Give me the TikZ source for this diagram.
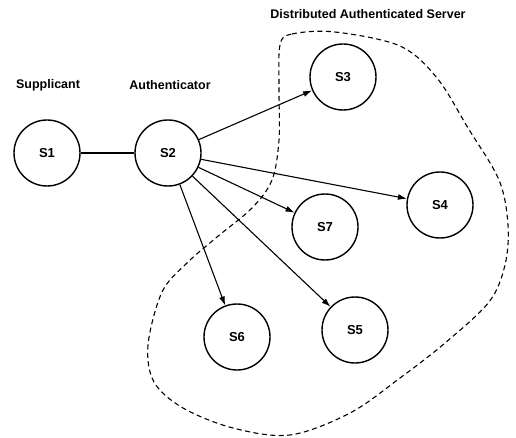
\documentclass[tikz,border=0pt]{standalone}
\usepackage{fontspec}
\setmainfont{Liberation Sans}
\usepackage{tikz}
\usetikzlibrary{arrows.meta}

\begin{document}
\begin{tikzpicture}[
	x=1pt, y=-1pt,
	station/.style={draw, circle, line width=1.4pt, minimum size=66pt, inner sep=0pt, font=\fontsize{13}{15}\selectfont\bfseries},
	caption/.style={font=\fontsize{12.5}{15}\selectfont\bfseries},
	edge/.style={draw, line width=1.1pt, -{Latex[length=9pt, width=6pt]}},
	link/.style={draw, line width=1.1pt},
	region/.style={draw, line width=1.1pt, dash pattern=on 5pt off 3.5pt}
	]
	\useasboundingbox (0,0) rectangle (516,438);
	
	% Define nodes
	\node[station] (s1) at (47,153) {S1};
	\node[station] (s2) at (168,153) {S2};
	\node[station] (s3) at (343,77) {S3};
	\node[station] (s4) at (440,205) {S4};
	\node[station] (s7) at (325,227) {S7};
	\node[station] (s5) at (355,330) {S5};
	\node[station] (s6) at (237,337) {S6};
	
	% Labels
	\node[caption] (supplicantLabel) at (48,85) {Supplicant};
	\node[caption] (authLabel) at (170,85) {Authenticator};
	\node[caption] (serverLabel) at (368,14) {Distributed Authenticated Server};
	
	% Server region
	\path[region] plot[smooth cycle, tension=0.55] coordinates {
		(280,45) (292,34) (335,32) (400,46) (437,78) (468,128) (499,180)
		(508,225) (505,265) (489,302) (445,343) (400,378) (350,413)
		(290,435) (233,428) (183,408) (154,382) (148,345) (162,292)
		(187,263) (217,237) (252,208) (272,180) (279,140) (279,90)};
	
	% Draw edges
	\path [link] (s1) -- (s2);
	\path [edge] (s2) -- (s3);
	\path [edge] (s2) -- (s4);
	\path [edge] (s2) -- (s7);
	\path [edge] (s2) -- (s5);
	\path [edge] (s2) -- (s6);
	
\end{tikzpicture}
\end{document}
